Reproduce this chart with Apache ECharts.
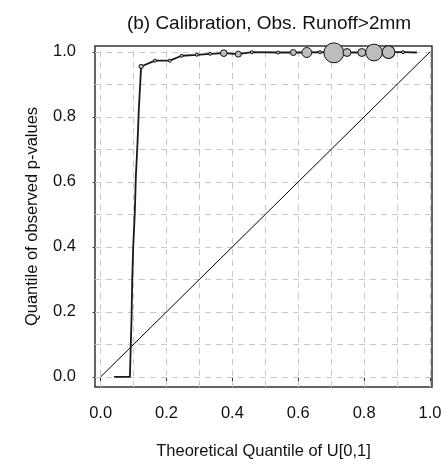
<!DOCTYPE html>
<html><head><meta charset="utf-8">
<script src="https://cdn.jsdelivr.net/npm/echarts@6/dist/echarts.min.js"></script>
<style>html,body{margin:0;padding:0;background:#fff}#c{width:448px;height:466px}</style>
</head><body><div id="c"></div>
<script>
// ---- data ----
const titleText = "(b) Calibration, Obs. Runoff>2mm";
const xName = "Theoretical Quantile of U[0,1]";
const yName = "Quantile of observed p-values";
const tickValues = [0, 0.2, 0.4, 0.6, 0.8, 1.0];
const gridValues = [0, 0.1, 0.2, 0.3, 0.4, 0.5, 0.6, 0.7, 0.8, 0.9, 1.0];
// empirical quantile curve
const curveX = [0.041, 0.089, 0.094, 0.096, 0.099, 0.104, 0.107, 0.112, 0.116, 0.123, 0.165, 0.210, 0.246, 0.292, 0.332, 0.374, 0.418, 0.459, 0.539, 0.585, 0.626, 0.666, 0.708, 0.748, 0.793, 0.830, 0.874, 0.918, 0.960];
const curveY = [0, 0, 0.186, 0.298, 0.400, 0.509, 0.616, 0.719, 0.822, 0.955, 0.973, 0.973, 0.988, 0.991, 0.994, 0.996, 0.993, 0.999, 0.998, 0.998, 0.998, 0.999, 0.997, 0.998, 0.998, 0.998, 0.999, 0.999, 0.998];
// points with weights (circle size)
const pointX = [0.123, 0.165, 0.210, 0.246, 0.292, 0.332, 0.374, 0.418, 0.459, 0.539, 0.585, 0.626, 0.666, 0.708, 0.748, 0.793, 0.830, 0.874, 0.918];
const pointY = [0.955, 0.973, 0.973, 0.988, 0.991, 0.994, 0.996, 0.993, 0.999, 0.998, 0.998, 0.998, 0.999, 0.997, 0.998, 0.998, 0.998, 0.999, 0.999];
const pointN = [2, 1, 1, 1, 1, 1, 5, 4, 1, 1, 4, 11, 1, 44, 7, 7, 31, 18, 1];
const diagX = [0, 1];
const diagY = [0, 1];

const font = "'Liberation Sans', Arial, sans-serif";
const chart = echarts.init(document.getElementById('c'), null, {renderer: 'canvas'});
const gridStyle = {color: '#c8c8c8', width: 1, type: [6, 5]};
chart.setOption({
  animation: false,
  title: {
    text: titleText, left: 264, top: 9, textAlign: 'center',
    textStyle: {fontFamily: font, fontSize: 19, fontWeight: 'normal', color: '#111'}
  },
  grid: {left: 95, top: 46, width: 337, height: 341, show: true, borderColor: '#333', borderWidth: 1.5, backgroundColor: 'transparent'},
  xAxis: {
    type: 'value', min: -0.017, max: 1.006,
    name: xName, nameLocation: 'middle', nameGap: 56,
    nameTextStyle: {fontFamily: font, fontSize: 16.5, color: '#111'},
    axisLine: {show: false},
    axisTick: {show: true, customValues: tickValues, length: 8, lineStyle: {color: '#333', width: 1}},
    axisLabel: {customValues: tickValues, formatter: v => v.toFixed(1), margin: 18, fontFamily: font, fontSize: 16.5, color: '#111'},
    splitLine: {show: false}
  },
  yAxis: {
    type: 'value', min: -0.031, max: 1.018,
    name: yName, nameLocation: 'middle', nameGap: 54, nameRotate: 90,
    nameTextStyle: {fontFamily: font, fontSize: 16.5, color: '#111'},
    axisLine: {show: false},
    axisTick: {show: true, customValues: tickValues, length: 8, lineStyle: {color: '#333', width: 1}},
    axisLabel: {customValues: tickValues, formatter: v => v.toFixed(1), margin: 19, fontFamily: font, fontSize: 16.5, color: '#111'},
    splitLine: {show: false}
  },
  series: [
    {
      type: 'line', data: diagX.map((x, i) => [x, diagY[i]]), symbol: 'none',
      lineStyle: {color: '#000', width: 1}, z: 3, silent: true,
      markLine: {
        silent: true, symbol: 'none', label: {show: false}, lineStyle: gridStyle, z: 1,
        data: gridValues.map(v => ({xAxis: v})).concat(gridValues.map(v => ({yAxis: v})))
      }
    },
    {
      type: 'line', data: curveX.map((x, i) => [x, curveY[i]]), symbol: 'none',
      lineStyle: {color: '#1a1a1a', width: 1.8}, z: 4, silent: true
    },
    {
      type: 'scatter', data: pointX.map((x, i) => [x, pointY[i], pointN[i]]),
      symbolSize: d => 3 * Math.sqrt(d[2]),
      itemStyle: {color: '#bdbdbd', borderColor: '#111', borderWidth: 1, opacity: 1},
      z: 5, silent: true
    }
  ]
});
</script></body></html>
